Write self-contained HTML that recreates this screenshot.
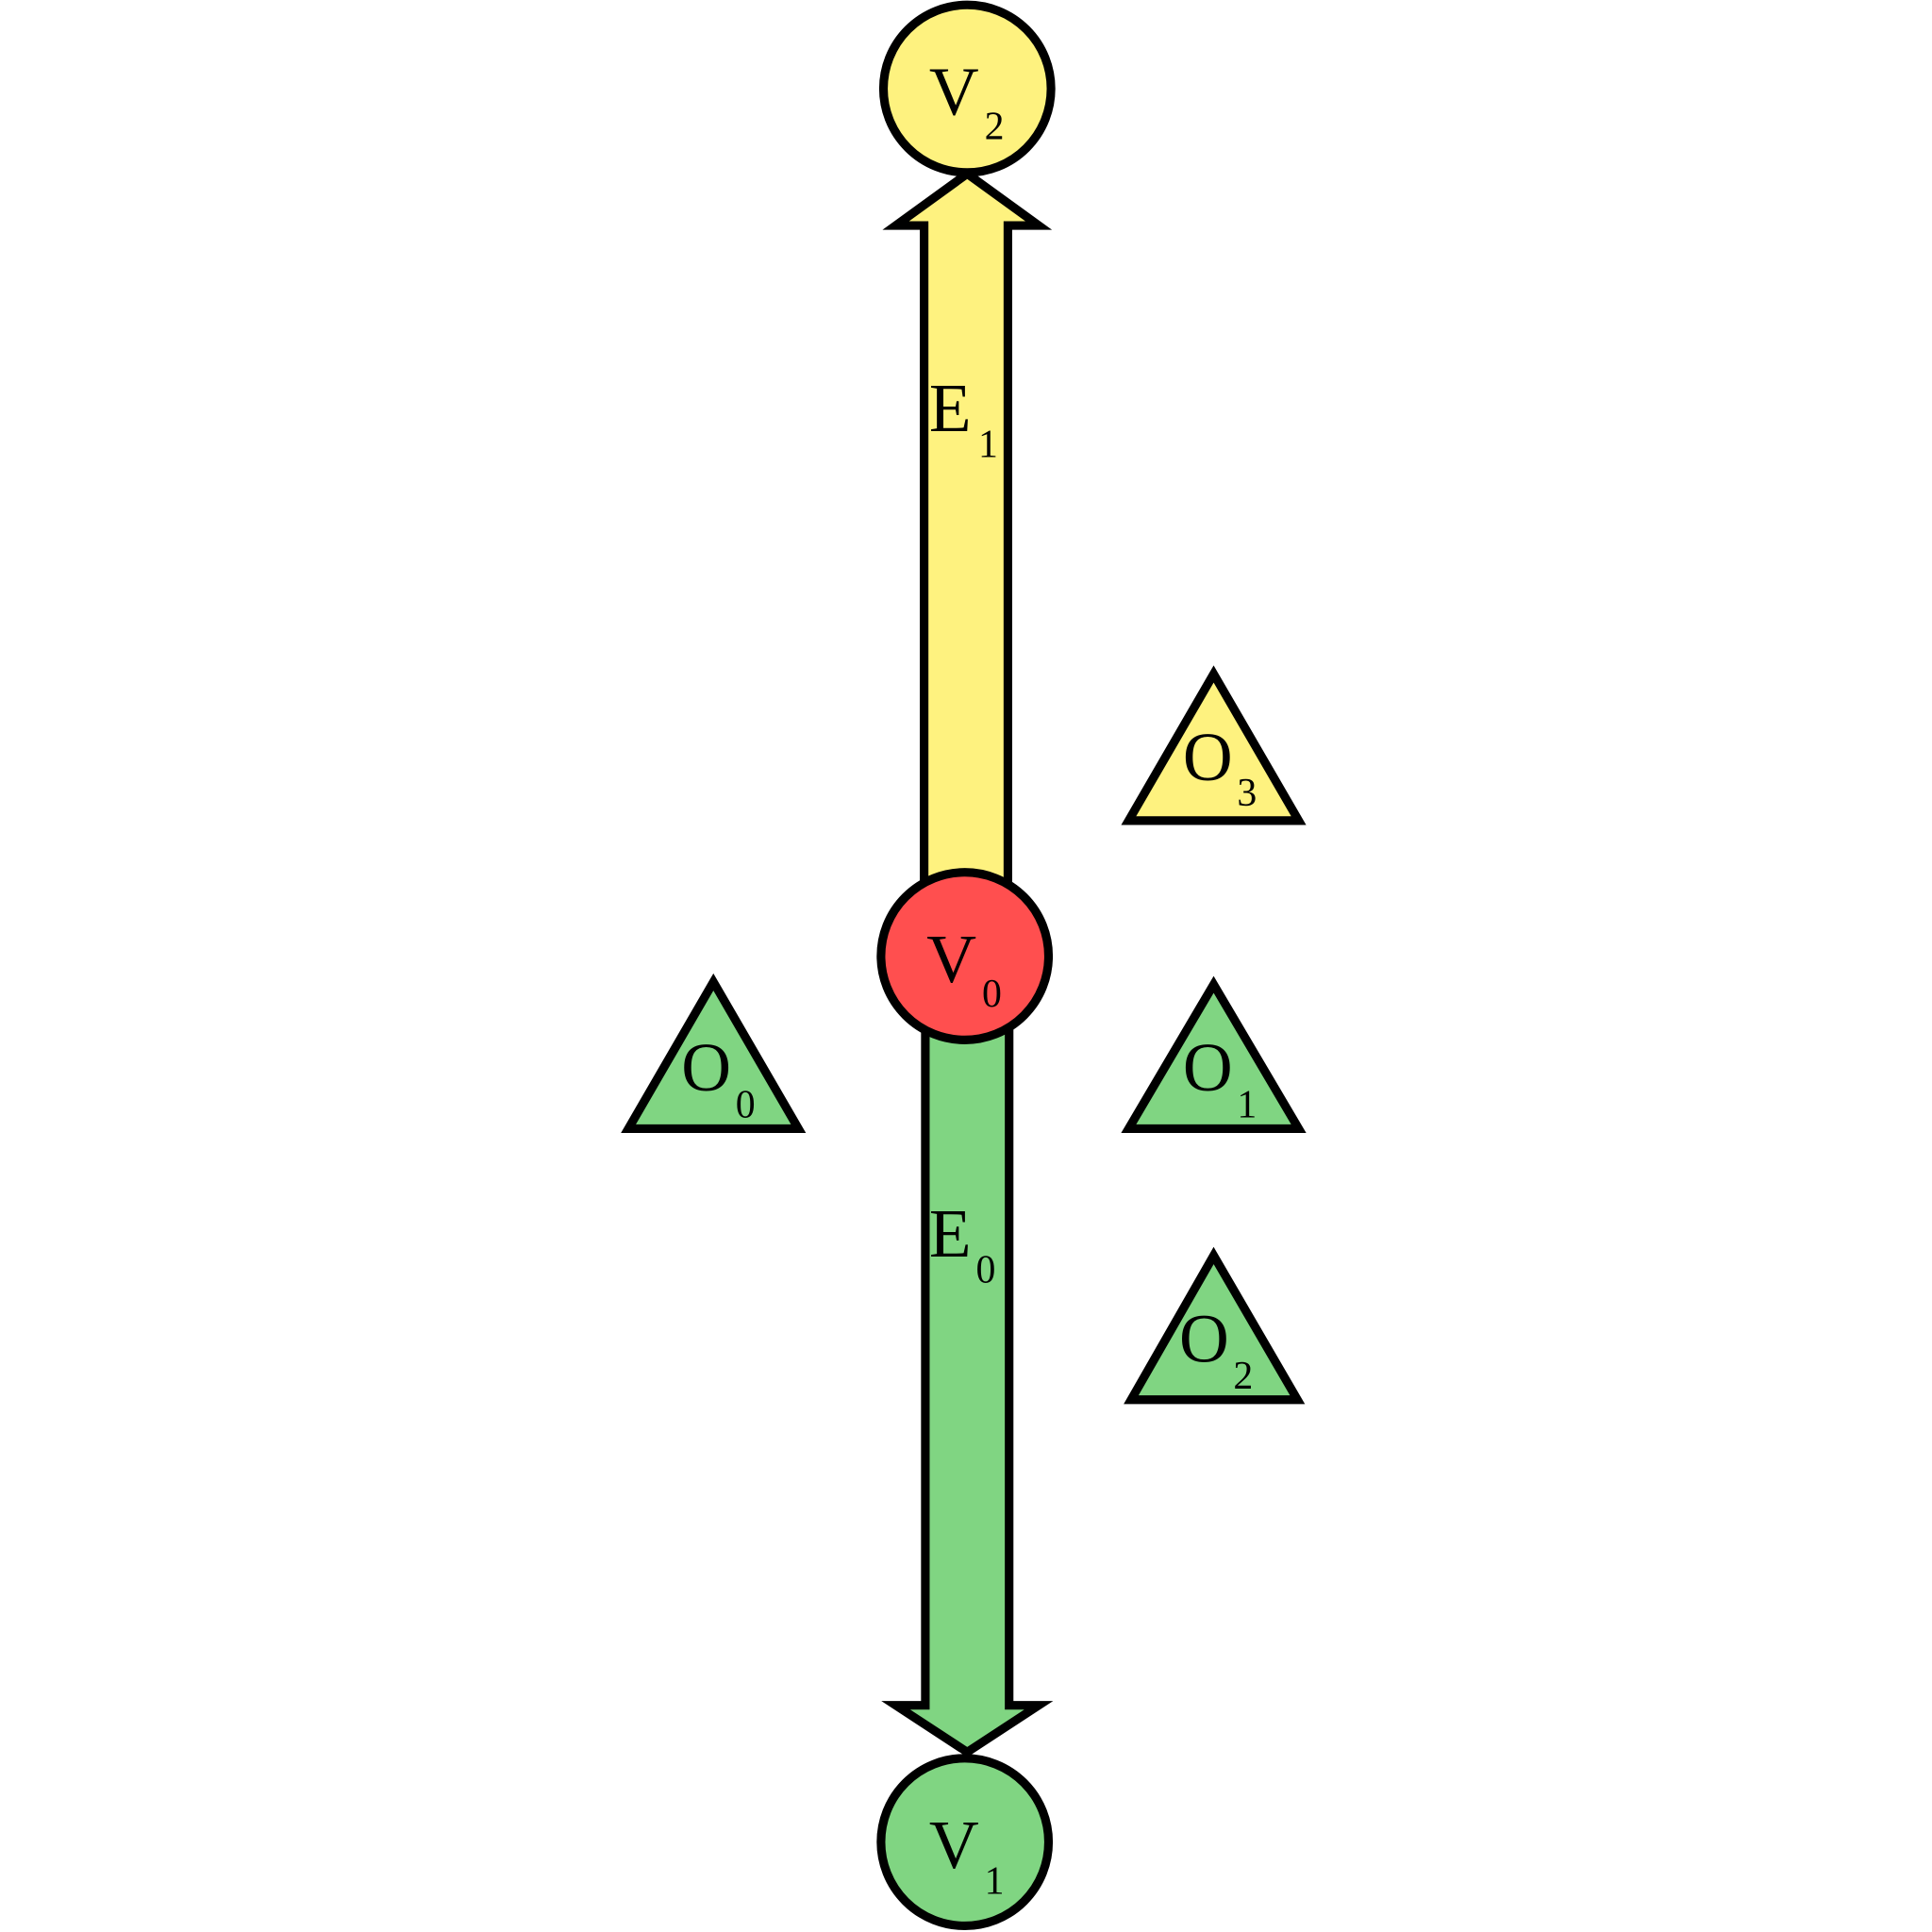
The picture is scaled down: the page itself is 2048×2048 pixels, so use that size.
<!DOCTYPE html>
<html><head><style>html,body{margin:0;padding:0;background:#fff}svg{display:block}text{font-family:"Liberation Serif","Times New Roman",Times,serif}</style></head>
<body>
<svg width="2048" height="2048" viewBox="0 0 1568 1568" xmlns="http://www.w3.org/2000/svg">
<g stroke="#000" stroke-width="7">
<polygon points="750,716 750,183 727,183 785,141 843,183 818,183 818,716" fill="#fef27f"/>
<polygon points="751,836 751,1384 727,1384 785,1422 843,1384 819,1384 819,836" fill="#80d582"/>
<circle cx="785" cy="72" r="68" fill="#fef27f"/>
<circle cx="783" cy="776" r="68" fill="#ff4f4f"/>
<circle cx="783" cy="1495" r="68" fill="#80d582"/>
<polygon points="985,547 916,666 1054,666" fill="#fef27f"/>
<polygon points="579,797 510,916 648,916" fill="#80d582"/>
<polygon points="985,799 916,916 1054,916" fill="#80d582"/>
<polygon points="985,1019 918,1136 1053,1136" fill="#80d582"/>
</g>
<g fill="#000" font-size="56">
<text x="754" y="93">V</text><text x="799" y="113" font-size="32">2</text>
<text x="752" y="797">V</text><text x="797" y="817" font-size="32">0</text>
<text x="754" y="1516">V</text><text x="799" y="1537" font-size="32">1</text>
<text x="754" y="350">E</text><text x="794" y="371" font-size="32">1</text>
<text x="754" y="1020">E</text><text x="792" y="1041" font-size="32">0</text>
<text x="960" y="633">O</text><text x="1004" y="654" font-size="32">3</text>
<text x="553" y="885">O</text><text x="597" y="907" font-size="32">0</text>
<text x="960" y="885">O</text><text x="1004" y="907" font-size="32">1</text>
<text x="957" y="1105">O</text><text x="1001" y="1127" font-size="32">2</text>
</g>
</svg>
</body></html>
